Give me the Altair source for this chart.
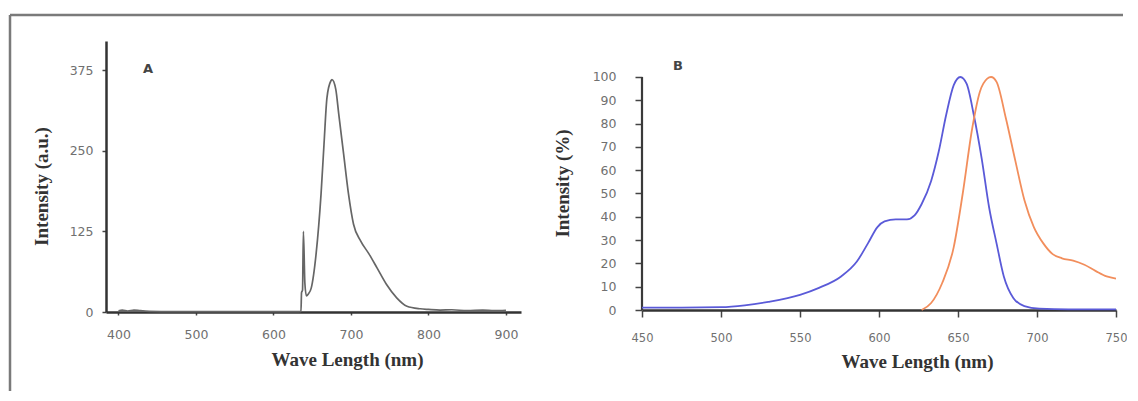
import altair as alt
import pandas as pd

# ---------------- Panel A data ----------------
a_wl = [400, 405, 412, 420, 428, 440, 470, 520, 580, 630, 635.5, 636.2, 637.5,
        638.6, 640.5, 642.5, 645, 648.7, 655, 661.4, 665.2, 669, 674, 675.5,
        680.4, 684.2, 690.5, 696.8, 703.3, 712.6, 723.2, 733.8, 745.7,
        759, 772.2, 789.4, 800, 815, 830, 850, 870, 885, 900]
a_int = [2, 3, 1.5, 3, 2, 1, 0.5, 0.5, 0.5, 0.5, 1, 30, 34,
         125, 45, 25, 28, 37, 90, 183, 260, 332, 358, 360,
         345, 307, 245, 183, 136, 110, 90, 68, 43,
         22, 9, 5, 4, 3, 3.5, 2, 3, 2, 2.5]

a_x_ticks = [400, 500, 600, 700, 800, 900]
a_y_ticks = [0, 125, 250, 375]

# ---------------- Panel B data ----------------
b_blue_wl = [450, 475, 500, 515, 530, 550, 562, 576, 586, 593, 599, 603.5,
             610.6, 617.7, 622.5, 627, 633, 637.8, 642.5, 647.3, 651.5, 655.5,
             660, 665, 669.7, 674.4, 679, 685, 692, 701.5, 720, 750]
b_blue_int = [1, 1, 1.2, 2, 3.5, 6.5, 9.5, 14.4, 20.8, 28.6, 35.6, 38,
              38.9, 38.9, 40.6, 45.5, 55.4, 68, 83.7, 96.5, 100, 97,
              83.7, 65, 44, 28.6, 14.4, 5.2, 1.7, 0.6, 0.3, 0.3]

b_orange_wl = [627, 633, 640, 647.3, 653, 659, 663.8, 668.5, 670.9, 674.4,
               680.3, 686.3, 692.1, 698, 704, 709.9, 715.8, 722.9, 730, 737,
               744.1, 750]
b_orange_int = [0, 3, 11.6, 27, 50, 78, 93.6, 99.3, 100, 97.9,
                82.3, 64, 47, 35.6, 28.6, 24, 22.2, 21.2, 19.4, 16.8,
                14.4, 13.5]

b_x_ticks = [450, 500, 550, 600, 650, 700, 750]
b_y_ticks = [0, 10, 20, 30, 40, 50, 60, 70, 80, 90, 100]

x_title = "Wave Length (nm)"
a_y_title = "Intensity (a.u.)"
b_y_title = "Intensity (%)"

LABEL_FONT = "DejaVu Sans"
TITLE_FONT = "Liberation Serif"

one = pd.DataFrame({"k": [0]})

# ---------------- Panel A ----------------
dfA = pd.DataFrame({"wl": a_wl, "v": a_int})
xA = alt.X("wl:Q", scale=alt.Scale(domain=[383.9, 919.4], nice=False, zero=False),
           axis=alt.Axis(values=a_x_ticks, title=x_title, tickSize=3, labelPadding=13,
                         titleX=241, titleY=47, titleBaseline="middle"))
yA = alt.Y("v:Q", scale=alt.Scale(domain=[0, 420], nice=False),
           axis=alt.Axis(values=a_y_ticks, title=a_y_title, tickSize=4, labelPadding=9,
                         titleX=-65, titleY=145, titleBaseline="middle"))
lineA = alt.Chart(dfA).mark_line(color="#666666", strokeWidth=1.7,
                                 interpolate="monotone").encode(x=xA, y=yA)
labelA = alt.Chart(one).mark_text(text="A", font="DejaVu Sans", fontWeight="bold",
                                  fontSize=13, color="#444444").encode(
    x=alt.value(42), y=alt.value(28))
frame_top = alt.Chart(one).mark_rule(color="#7a7a7a", strokeWidth=2.5).encode(
    x=alt.value(-96), x2=alt.value(1017), y=alt.value(-26))
frame_left = alt.Chart(one).mark_rule(color="#7a7a7a", strokeWidth=2.5).encode(
    x=alt.value(-96), y=alt.value(-26), y2=alt.value(350))
chartA = alt.layer(frame_top, frame_left, lineA, labelA).properties(width=415, height=271)

# ---------------- Panel B ----------------
dfB = pd.concat([
    pd.DataFrame({"wl": b_blue_wl, "v": b_blue_int, "s": "blue"}),
    pd.DataFrame({"wl": b_orange_wl, "v": b_orange_int, "s": "orange"}),
])
xB_scale = alt.Scale(domain=[450, 750], nice=False, zero=False)
yB_scale = alt.Scale(domain=[0, 115.45], nice=False)
xB_axis = alt.Axis(values=b_x_ticks, title=x_title, tickSize=7, labelPadding=15,
                   labelFontSize=11.5, titleX=275, titleY=51, titleBaseline="middle")
yB_axis = alt.Axis(values=b_y_ticks, title=b_y_title, tickSize=7, labelPadding=19,
                   domain=False, titleX=-80, titleY=142, titleBaseline="middle")
lineB = alt.Chart(dfB).mark_line(strokeWidth=1.8, interpolate="monotone").encode(
    x=alt.X("wl:Q", scale=xB_scale, axis=xB_axis),
    y=alt.Y("v:Q", scale=yB_scale, axis=yB_axis),
    color=alt.Color("s:N", scale=alt.Scale(domain=["blue", "orange"],
                                           range=["#5a5ad8", "#f28e5c"]), legend=None),
)
axis_rule_df = pd.DataFrame({"wl": [450], "v": [0], "v2": [100]})
yaxisB = alt.Chart(axis_rule_df).mark_rule(color="#3a3a3a", strokeWidth=2.2).encode(
    x=alt.X("wl:Q", scale=xB_scale, axis=xB_axis),
    y=alt.Y("v:Q", scale=yB_scale, axis=yB_axis),
    y2="v2:Q",
)
labelB = alt.Chart(one).mark_text(text="B", font="DejaVu Sans", fontWeight="bold",
                                  fontSize=13, color="#444444").encode(
    x=alt.value(36), y=alt.value(25))
chartB = alt.layer(yaxisB, lineB, labelB).properties(width=474, height=269)

chart = alt.hconcat(chartA, chartB, spacing=121, bounds="flush").properties(
    padding={"left": 0, "top": 5, "right": 0, "bottom": 0}
).configure_view(stroke=None).configure_axis(
    grid=False, labelFlush=False,
    domainColor="#333333", domainWidth=2.5,
    tickColor="#444444", tickWidth=1.5,
    labelFont=LABEL_FONT, labelFontSize=12.5, labelColor="#707070",
    titleFont=TITLE_FONT, titleFontWeight="bold", titleFontSize=19, titleColor="#333333",
)

chart.save("out.html", embed_options={"renderer": "svg", "actions": False})
